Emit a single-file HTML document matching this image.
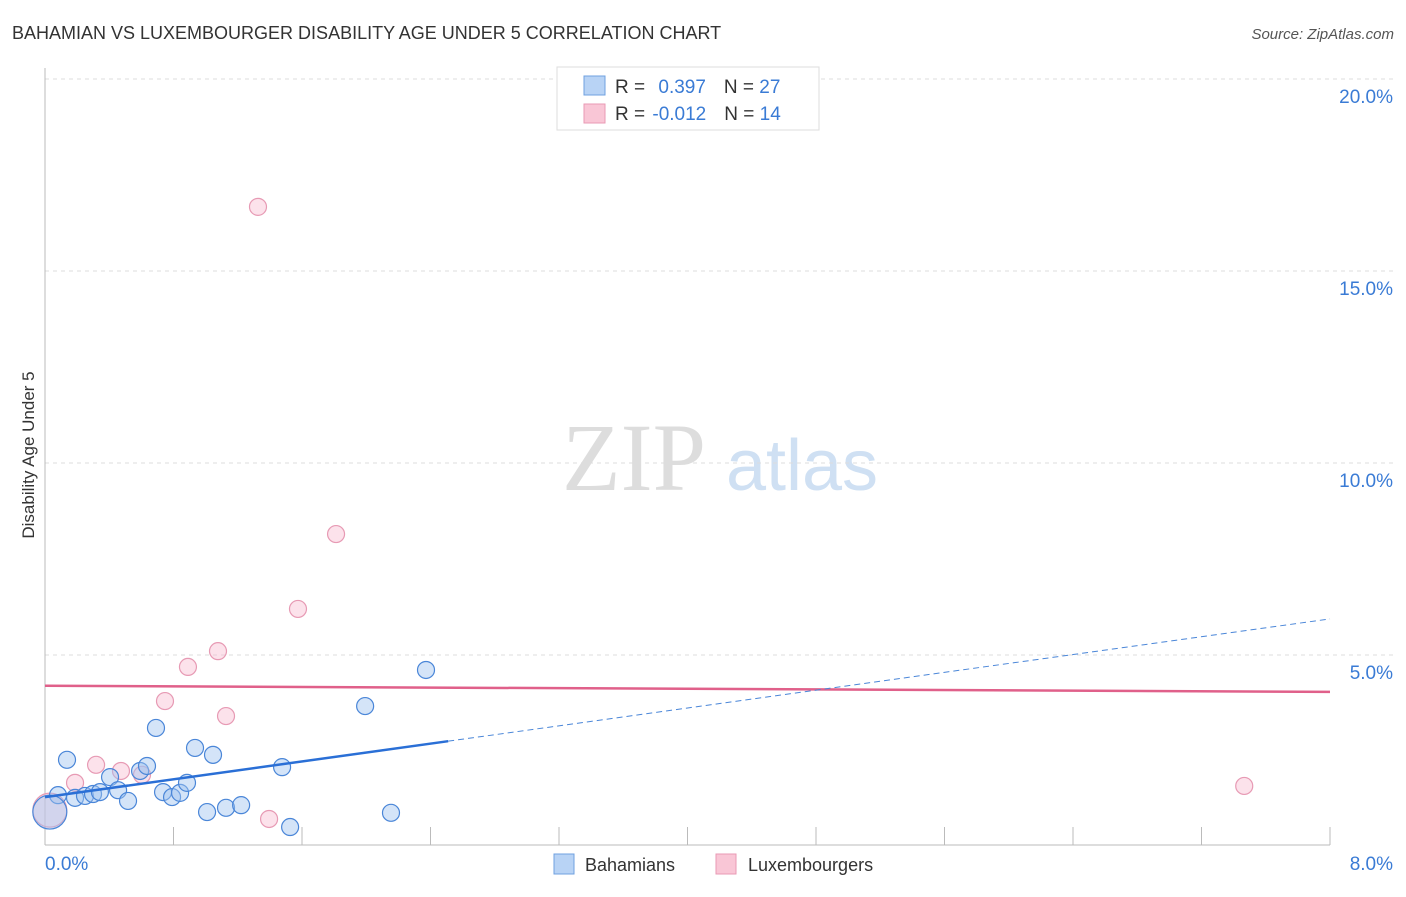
<!DOCTYPE html>
<html><head><meta charset="utf-8"><style>
body{margin:0;background:#fff;font-family:"Liberation Sans",sans-serif;}
</style></head><body>
<svg width="1406" height="892" viewBox="0 0 1406 892" xmlns="http://www.w3.org/2000/svg" font-family="Liberation Sans, sans-serif">
<text x="12" y="39" font-size="18" fill="#333">BAHAMIAN VS LUXEMBOURGER DISABILITY AGE UNDER 5 CORRELATION CHART</text>
<text x="1394" y="39" font-size="15" fill="#555" font-style="italic" text-anchor="end">Source: ZipAtlas.com</text>
<text transform="translate(34,455) rotate(-90)" font-size="17" fill="#333" text-anchor="middle">Disability Age Under 5</text>
<g>
<text x="634" y="490" font-size="96" fill="#ddd" font-family="Liberation Serif, serif" text-anchor="middle">ZIP</text>
<text x="802" y="490" font-size="72" fill="#cfe0f3" text-anchor="middle">atlas</text>
</g>
<g id="grid"></g><g id="axes"></g><g id="marks"></g>
<g>
<rect x="557" y="67" width="262" height="63" fill="#fff" stroke="#ddd"/>
<rect x="584" y="76" width="21" height="19" fill="#b8d3f5" stroke="#6fa0e0"/>
<rect x="584" y="104" width="21" height="19" fill="#f9c6d6" stroke="#e99ab4"/>
<text x="615" y="93" font-size="19" fill="#333">R = <tspan fill="#3a7bd5" dx="8">0.397</tspan><tspan fill="#333" dx="18">N = </tspan><tspan fill="#3a7bd5">27</tspan></text>
<text x="615" y="120" font-size="19" fill="#333">R = <tspan fill="#3a7bd5" dx="2">-0.012</tspan><tspan fill="#333" dx="18">N = </tspan><tspan fill="#3a7bd5">14</tspan></text>
</g>
<g>
<rect x="554" y="854" width="20" height="20" fill="#b8d3f5" stroke="#6fa0e0"/>
<text x="585" y="871" font-size="18" fill="#333">Bahamians</text>
<rect x="716" y="854" width="20" height="20" fill="#f9c6d6" stroke="#e99ab4"/>
<text x="748" y="871" font-size="18" fill="#333">Luxembourgers</text>
</g>
</svg>
<script>
const yTicks=[5,10,15,20];
const yTickLabels=["5.0%","10.0%","15.0%","20.0%"];
const xTickLabels=["0.0%","8.0%"];
const blueX=[0.137,0.081,0.187,0.249,0.299,0.342,0.405,0.455,0.517,0.592,0.635,0.691,0.735,0.791,0.841,0.884,0.934,1.046,1.009,1.127,1.221,1.476,1.526,1.993,2.154,2.372,0.03];
const blueY=[2.27,1.35,1.28,1.33,1.38,1.43,1.82,1.48,1.20,1.98,2.11,3.10,1.43,1.30,1.41,1.67,2.58,2.40,0.91,1.02,1.09,2.08,0.52,3.67,0.89,4.61,0.91];
const pinkX=[1.326,1.812,1.575,1.077,0.890,0.747,1.127,0.318,0.473,0.604,0.187,1.395,7.466,0.03];
const pinkY=[16.67,8.15,6.20,5.10,4.69,3.80,3.41,2.14,1.98,1.88,1.67,0.73,1.59,0.96];
const blueTrend=[1.30,0.58]; // intercept, slope
const pinkTrend=[4.20,-0.02];
const blueSolidEnd=2.51;
const NS="http://www.w3.org/2000/svg";
const sx=v=>45+v/8*1285, sy=v=>847-v/5*192;
function mk(t,a,p){const e=document.createElementNS(NS,t);for(const k in a)e.setAttribute(k,a[k]);document.getElementById(p).appendChild(e);return e;}
yTicks.forEach((t,i)=>{
 const g=mk('line',{x1:45,x2:1394,y1:sy(t),y2:sy(t),stroke:'#ddd','stroke-dasharray':'4,4'},'grid');
 
 
 const l=mk('text',{x:1393,y:sy(t)+24,'font-size':19,fill:'#3a7bd5','text-anchor':'end'},'axes');
 l.textContent=yTickLabels[i];
 
 
});
let ax=mk('line',{x1:45,x2:45,y1:68,y2:845,stroke:'#bbb'},'axes');


ax=mk('line',{x1:45,x2:1330,y1:845,y2:845,stroke:'#bbb'},'axes');


for(let i=1;i<=10;i++){const t=mk('line',{x1:sx(i*0.8),x2:sx(i*0.8),y1:827,y2:845,stroke:'#bbb'},'axes');
 
 }
[[0,45,'start'],[8,1393,'end']].forEach((d,i)=>{const l=mk('text',{x:d[1],y:870,'font-size':19,fill:'#3a7bd5','text-anchor':d[2]},'axes');l.textContent=xTickLabels[i];
 
 });
function pts(X,Y,fill,stroke,name){X.forEach((x,i)=>{const big=i===X.length-1;const c=mk('circle',{cx:sx(x),cy:sy(Y[i]),r:big?17:8.5,fill:fill,stroke:stroke,'stroke-width':1.2},'marks');
 
 });}
pts(pinkX,pinkY,'rgba(249,190,210,0.45)','#e79ab4','luxembourger-point');
pts(blueX,blueY,'rgba(160,196,240,0.45)','#4a86d8','bahamian-point');
let ln=mk('line',{x1:sx(0),y1:sy(pinkTrend[0]),x2:sx(8),y2:sy(pinkTrend[0]+8*pinkTrend[1]),stroke:'#e0608a','stroke-width':2.5},'marks');


ln=mk('line',{x1:sx(0),y1:sy(blueTrend[0]),x2:sx(blueSolidEnd),y2:sy(blueTrend[0]+blueSolidEnd*blueTrend[1]),stroke:'#2a6fd6','stroke-width':2.5},'marks');


ln=mk('line',{x1:sx(blueSolidEnd),y1:sy(blueTrend[0]+blueSolidEnd*blueTrend[1]),x2:sx(8),y2:sy(blueTrend[0]+8*blueTrend[1]),stroke:'#4a86d8','stroke-width':1,'stroke-dasharray':'6,4'},'marks');


</script>
</body></html>
